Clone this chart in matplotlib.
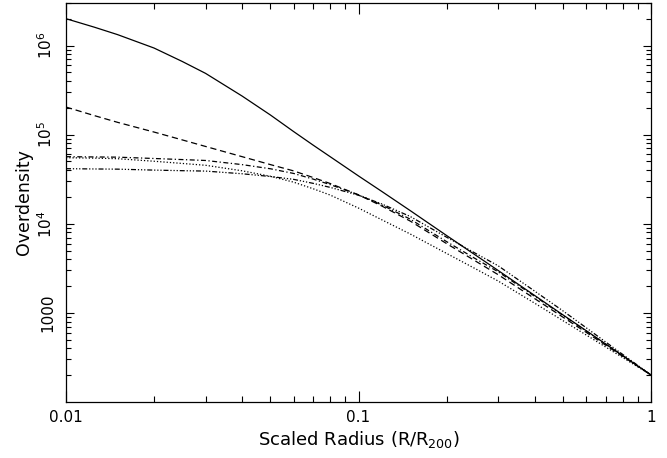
import matplotlib
matplotlib.use("Agg")
import matplotlib.pyplot as plt

plt.rcParams.update({"font.family": "DejaVu Sans", "font.size": 11})

radius = [0.01, 0.0125, 0.015, 0.02, 0.025, 0.03, 0.04, 0.05, 0.06, 0.07, 0.08, 0.1,
          0.12, 0.15, 0.2, 0.25, 0.3, 0.4, 0.5, 0.6, 0.7, 0.85, 1.0]

solid = [2.0e6, 1.606e6, 1.326e6, 9.37e5, 6.61e5, 4.87e5, 2.71e5, 1.66e5, 1.083e5, 7.62e4,
         5.66e4, 3.44e4, 2.31e4, 1.41e4, 7386, 4496, 2995, 1569, 949.5, 632.6, 447.3, 289.6, 201]
dashed = [2.04e5, 1.635e5, 1.375e5, 1.069e5, 8.72e4, 7.37e4, 5.66e4, 4.61e4, 3.92e4, 3.30e4,
          2.83e4, 2.11e4, 1.585e4, 1.075e4, 5993, 3850, 2688, 1448, 895, 605.5, 433.6, 285.8, 201]
dashdot = [5.66e4, 5.62e4, 5.59e4, 5.40e4, 5.25e4, 5.13e4, 4.61e4, 4.14e4, 3.67e4, 3.17e4,
           2.75e4, 2.11e4, 1.63e4, 1.13e4, 6310, 4087, 2896, 1537, 937, 626, 445, 289, 201]
dotted = [5.51e4, 5.45e4, 5.37e4, 5.03e4, 4.75e4, 4.53e4, 3.93e4, 3.41e4, 2.93e4, 2.47e4,
          2.10e4, 1.50e4, 1.11e4, 7700, 4650, 3150, 2280, 1286, 818, 566, 414, 279, 201]
dashdotdot = [4.15e4, 4.12e4, 4.10e4, 4.00e4, 3.94e4, 3.90e4, 3.64e4, 3.39e4, 3.15e4, 2.84e4,
              2.56e4, 2.09e4, 1.67e4, 1.21e4, 7070, 4699, 3382, 1757, 1053, 682, 471, 296, 201]

ytick_vals = [1e3, 1e4, 1e5, 1e6]
ytick_labels = ["1000", "$10^4$", "$10^5$", "$10^6$"]
xtick_vals = [0.01, 0.1, 1]
xtick_labels = ["0.01", "0.1", "1"]

fig = plt.figure(figsize=(6.67, 4.58), dpi=100)
ax = fig.add_axes([66 / 667, 56 / 458, 585 / 667, 399 / 458])

lw = 0.9
ax.plot(radius, solid, color="black", lw=lw, ls="-")
ax.plot(radius, dashed, color="black", lw=lw, ls=(0, (5, 3)))
ax.plot(radius, dashdot, color="black", lw=lw, ls=(0, (4, 2, 1, 2)))
ax.plot(radius, dotted, color="black", lw=lw, ls=(0, (1, 1.6)))
ax.plot(radius, dashdotdot, color="black", lw=lw, ls=(0, (4, 1.5, 1, 1.5, 1, 1.5, 1, 1.5)))

ax.set_xscale("log")
ax.set_yscale("log")
ax.set_xlim(0.01, 1)
ax.set_ylim(100, 3e6)

ax.set_xticks(xtick_vals)
ax.set_xticklabels(xtick_labels)
ax.set_yticks(ytick_vals)
ax.set_yticklabels(ytick_labels, rotation=90, va="center")

ax.tick_params(which="both", direction="in", top=True, right=True, width=0.8)
ax.tick_params(axis="x", which="major", length=8, pad=6)
ax.tick_params(axis="x", which="minor", length=4.5)
ax.tick_params(axis="y", which="major", length=6, pad=8)
ax.tick_params(axis="y", which="minor", length=3.5)
for s in ax.spines.values():
    s.set_linewidth(0.9)

ax.set_xlabel("Scaled Radius (R/R$_{200}$)", fontsize=13, labelpad=3)
ax.set_ylabel("Overdensity", fontsize=12.5, labelpad=2)

fig.savefig("out.png", dpi=100)
